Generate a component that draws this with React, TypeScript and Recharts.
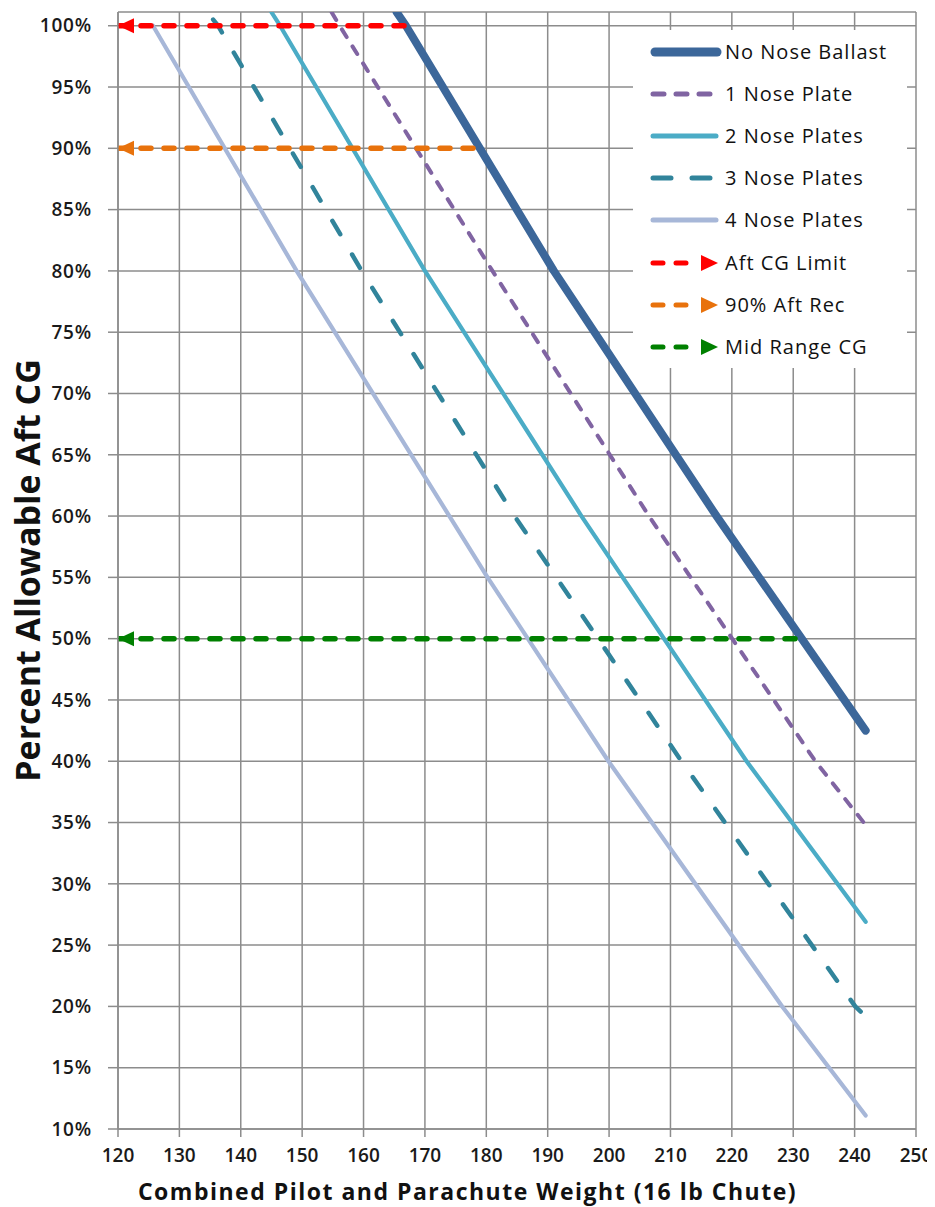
import React from 'react';
import { LineChart, Line, XAxis, YAxis, CartesianGrid, Legend, Label } from 'recharts';

// Axis ticks
const weightTicks = [120, 130, 140, 150, 160, 170, 180, 190, 200, 210, 220, 230, 240, 250];
const pctTicks = [10, 15, 20, 25, 30, 35, 40, 45, 50, 55, 60, 65, 70, 75, 80, 85, 90, 95, 100];

// Series values (weight in lb, percent allowable aft CG)
const noBallastW = [165.4, 166.9, 191.0, 217.5, 241.8];
const noBallastP = [101.1, 100, 80, 60, 42.5];

const onePlateW = [154.8, 156.1, 181.0, 206.5, 233.6, 241.8];
const onePlateP = [101.1, 100, 80, 60, 40, 34.8];

const twoPlatesW = [145.0, 146.4, 170.0, 195.5, 222.4, 241.8];
const twoPlatesP = [101.1, 100, 80, 60, 40, 26.9];

const threePlatesW = [135.5, 136.3, 159.7, 184.6, 211.8, 240.1, 241.8];
const threePlatesP = [100.5, 100, 80, 60, 40, 20, 19.2];

const fourPlatesW = [125.7, 149.1, 180.2, 199.9, 228.2, 241.8];
const fourPlatesP = [100, 80, 55, 40, 20, 11.1];

// Reference arrows
const aftLimitW = [120, 167];
const aftLimitP = [100, 100];
const aftRecW = [120, 179];
const aftRecP = [90, 90];
const midRangeW = [120, 232];
const midRangeP = [50, 50];

const seriesNames = [
  'No Nose Ballast',
  '1 Nose Plate',
  '2 Nose Plates',
  '3 Nose Plates',
  '4 Nose Plates',
  'Aft CG Limit',
  '90% Aft Rec',
  'Mid Range CG',
];

const toPoints = (w: number[], p: number[]) => w.map((x, i) => ({ w: x, p: p[i] }));

type Style = {
  color: string;
  width: number;
  dash?: string;
  legendDash?: string;
  arrow?: boolean;
  data: { w: number; p: number }[];
};

const styles: Style[] = [
  { color: '#3C679A', width: 8, data: toPoints(noBallastW, noBallastP) },
  { color: '#8064A2', width: 4, dash: '9 11', legendDash: '11 12', data: toPoints(onePlateW, onePlateP) },
  { color: '#4BACC6', width: 4.2, data: toPoints(twoPlatesW, twoPlatesP) },
  { color: '#31849B', width: 4.5, dash: '15.5 23.5', legendDash: '18 21', data: toPoints(threePlatesW, threePlatesP) },
  { color: '#A7B7D8', width: 4.2, data: toPoints(fourPlatesW, fourPlatesP) },
  { color: '#FF0000', width: 5.5, dash: '10 13', arrow: true, data: toPoints(aftLimitW, aftLimitP) },
  { color: '#E8720C', width: 5.5, dash: '10 13', arrow: true, data: toPoints(aftRecW, aftRecP) },
  { color: '#008000', width: 5.5, dash: '10 13', arrow: true, data: toPoints(midRangeW, midRangeP) },
];

const GRID = '#8c8c8c';
const FONT = "'Open Sans', 'Liberation Sans', sans-serif";

const arrowDot = (color: string, idx: number) => (props: any) => {
  const { cx, cy, index } = props;
  if (index !== 0 || cx == null || cy == null) return <g key={`a${idx}-${index}`} />;
  return (
    <polygon
      key={`a${idx}-${index}`}
      points={`${cx},${cy} ${cx + 16},${cy - 7.5} ${cx + 16},${cy + 7.5}`}
      fill={color}
    />
  );
};

const Swatch = ({ s, i }: { s: Style; i: number }) => {
  if (s.arrow) {
    return (
      <svg width={92} height={22} style={{ flex: 'none', display: 'block' }}>
        <line x1={20} y1={11} x2={62} y2={11} stroke={s.color} strokeWidth={5} strokeDasharray="10 13" strokeLinecap="round" />
        <polygon points={`85,11 68,3 68,19`} fill={s.color} />
      </svg>
    );
  }
  const w = i === 0 ? 9 : 5;
  return (
    <svg width={92} height={22} style={{ flex: 'none', display: 'block' }}>
      <line
        x1={i === 0 ? 22 : 20}
        y1={11}
        x2={i === 0 ? 84 : s.legendDash ? 78 : 83}
        y2={11}
        stroke={s.color}
        strokeWidth={w}
        strokeDasharray={s.legendDash}
        strokeLinecap="round"
      />
    </svg>
  );
};

const renderLegend = () => (
  <div
    style={{
      background: '#fff',
      width: 274,
      height: 338,
      boxSizing: 'border-box',
      paddingTop: 1,
      fontFamily: FONT,
      fontSize: 20,
      letterSpacing: 1,
      color: '#111',
    }}
  >
    {seriesNames.map((name, i) => (
      <div key={name} style={{ display: 'flex', alignItems: 'center', height: 42.1 }}>
        <Swatch s={styles[i]} i={i} />
        <span style={{ lineHeight: '22px', whiteSpace: 'nowrap' }}>{name}</span>
      </div>
    ))}
  </div>
);

export default function App() {
  return (
    <div style={{ width: 935, height: 1207, marginLeft: -8, marginTop: -8 }}>
      <LineChart width={935} height={1207} margin={{ top: 12, right: 19, bottom: 0, left: 0 }}>
        <CartesianGrid stroke={GRID} strokeWidth={1.5} />
        <XAxis
          type="number"
          dataKey="w"
          domain={[120, 250]}
          ticks={weightTicks}
          interval={0}
          allowDataOverflow
          height={78}
          tickSize={8}
          tickMargin={12}
          axisLine={{ stroke: GRID, strokeWidth: 1.5 }}
          tickLine={{ stroke: GRID, strokeWidth: 1.5 }}
          tick={{ fill: '#1a1a1a', fontSize: 19, fontFamily: FONT, fontWeight: 600 }}
        >
          <Label
            content={() => (
              <text
                x={467.5}
                y={1200}
                textAnchor="middle"
                fontFamily={FONT}
                fontWeight={700}
                fontSize={23}
                letterSpacing={1.5}
                fill="#111"
              >
                Combined Pilot and Parachute Weight (16 lb Chute)
              </text>
            )}
          />
        </XAxis>
        <YAxis
          type="number"
          dataKey="p"
          domain={[10, 101.12]}
          ticks={pctTicks}
          interval={0}
          allowDataOverflow
          width={118}
          tickSize={10}
          tickMargin={16}
          tickFormatter={(v: number) => `${v}%`}
          axisLine={{ stroke: GRID, strokeWidth: 1.5 }}
          tickLine={{ stroke: GRID, strokeWidth: 1.5 }}
          tick={{ fill: '#1a1a1a', fontSize: 19, fontFamily: FONT, fontWeight: 600, letterSpacing: 0.8 }}
        >
          <Label
            content={() => (
              <text
                x={0}
                y={0}
                transform="translate(39.5, 570.5) rotate(-90)"
                textAnchor="middle"
                fontFamily={FONT}
                fontWeight={700}
                fontSize={34}
                fill="#111"
              >
                Percent Allowable Aft CG
              </text>
            )}
          />
        </YAxis>
        <Legend
          layout="vertical"
          align="center"
          verticalAlign="middle"
          content={renderLegend}
          wrapperStyle={{ left: 633, top: 30, width: 274, height: 338 }}
        />
        {styles.map((s, i) => (
          <Line
            key={seriesNames[i]}
            name={seriesNames[i]}
            data={s.data}
            dataKey="p"
            type="linear"
            stroke={s.color}
            strokeWidth={s.width}
            strokeDasharray={s.dash}
            strokeLinecap="round"
            strokeLinejoin="round"
            dot={s.arrow ? arrowDot(s.color, i) : false}
            activeDot={false}
            isAnimationActive={false}
          />
        ))}
      </LineChart>
    </div>
  );
}
